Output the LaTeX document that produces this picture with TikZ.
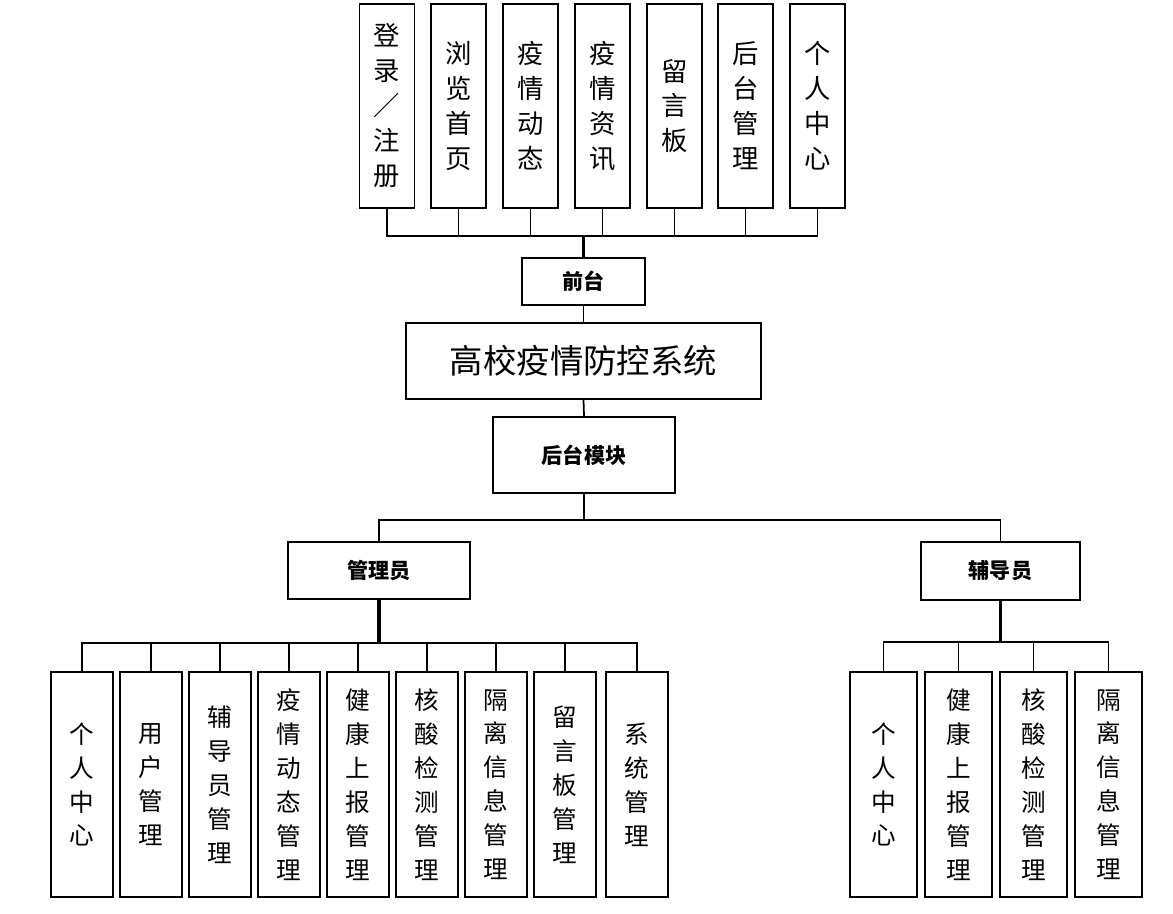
\documentclass[tikz,border=0pt]{standalone}
\usepackage{fontspec}
\setmainfont{Noto Sans CJK SC}
\usetikzlibrary{positioning}

\tikzset{
  topbox/.style={draw,line width=1.1pt,inner sep=0pt,minimum width=1.1cm,minimum height=4.08cm,
    align=center,font=\fontsize{15}{19.9}\selectfont},
  leafbox/.style={draw,line width=1.1pt,inner sep=0pt,minimum width=1.24cm,minimum height=4.5cm,
    align=center,font=\fontsize{14}{19.3}\selectfont},
  midbox/.style={draw,line width=1.1pt,inner sep=0pt,font=\fontsize{12}{14}\selectfont\bfseries},
  link/.style={line width=1pt},
  boldlink/.style={line width=1.8pt}
}

\begin{document}
\begin{tikzpicture}[x=0.02cm,y=-0.02cm]
\useasboundingbox (0,0) rectangle (1173,913);

% front end pages
\node[topbox] (login) at (387,106) {登\\录\\／\\注\\册};
\node[topbox] (browse) at (458.5,106) {浏\\览\\首\\页};
\node[topbox] (trend) at (530.5,106) {疫\\情\\动\\态};
\node[topbox] (news) at (602.5,106) {疫\\情\\资\\讯};
\node[topbox] (board) at (674.5,106) {留\\言\\板};
\node[topbox] (admin) at (745.5,106) {后\\台\\管\\理};
\node[topbox] (mine) at (817.5,106) {个\\人\\中\\心};

\node[midbox,minimum width=2.46cm,minimum height=0.95cm] (front) at (583.5,281.5) {前台};
\node[draw,line width=1.1pt,minimum width=7.1cm,minimum height=1.52cm,font=\fontsize{19}{21}\selectfont] (sys) at (583.5,361) {高校疫情防控系统};
\node[midbox,minimum width=3.64cm,minimum height=1.52cm] (back) at (584,455) {后台模块};
\node[midbox,minimum width=3.64cm,minimum height=1.14cm] (manager) at (379,570.5) {管理员};
\node[midbox,minimum width=3.18cm,minimum height=1.16cm] (tutor) at (1000.5,571) {辅导员};

% manager functions
\node[leafbox] (m1) at (82,784.5) {个\\人\\中\\心};
\node[leafbox] (m2) at (151,784.5) {用\\户\\管\\理};
\node[leafbox] (m3) at (220,784.5) {辅\\导\\员\\管\\理};
\node[leafbox] (m4) at (289,784.5) {疫\\情\\动\\态\\管\\理};
\node[leafbox] (m5) at (358,784.5) {健\\康\\上\\报\\管\\理};
\node[leafbox] (m6) at (427,784.5) {核\\酸\\检\\测\\管\\理};
\node[leafbox] (m7) at (496,784.5) {隔\\离\\信\\息\\管\\理};
\node[leafbox] (m8) at (565,784.5) {留\\言\\板\\管\\理};
\node[leafbox] (m9) at (637,784.5) {系\\统\\管\\理};

% tutor functions
\node[leafbox,minimum width=1.34cm] (f1) at (883.5,784.5) {个\\人\\中\\心};
\node[leafbox,minimum width=1.34cm] (f2) at (958.5,784.5) {健\\康\\上\\报\\管\\理};
\node[leafbox,minimum width=1.34cm] (f3) at (1033.5,784.5) {核\\酸\\检\\测\\管\\理};
\node[leafbox,minimum width=1.34cm] (f4) at (1108.5,784.5) {隔\\离\\信\\息\\管\\理};

% connectors
\coordinate (topbus) at (583.5,236);
\foreach \n in {login,browse,trend,news,board,admin,mine}
  \draw[link] (\n.south) |- (topbus);
\draw[boldlink] (topbus) -- (front.north);
\draw[link] (front.south) -- (sys.north);
\draw[link] (sys.south) -- (back.north);

\coordinate (midbus) at (584,520);
\draw[link] (back.south) -- (midbus);
\draw[link] (manager.north) |- (midbus);
\draw[link] (tutor.north) |- (midbus);

\coordinate (mbus) at (379,643);
\draw[boldlink] (manager.south) -- (mbus);
\foreach \n in {m1,m2,m3,m4,m5,m6,m7,m8,m9}
  \draw[link] (\n.north) |- (mbus);

\coordinate (fbus) at (1000.5,642);
\draw[boldlink] (tutor.south) -- (fbus);
\foreach \n in {f1,f2,f3,f4}
  \draw[link] (\n.north) |- (fbus);
\end{tikzpicture}
\end{document}
